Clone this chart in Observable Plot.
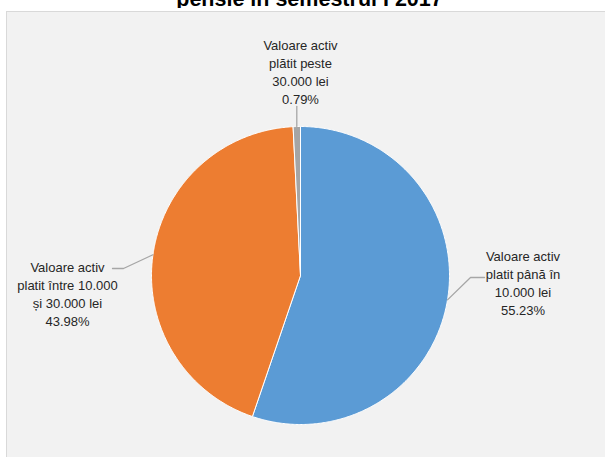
<!DOCTYPE html>
<html><head><meta charset="utf-8">
<script src="https://cdn.jsdelivr.net/npm/d3@7"></script>
<script src="https://cdn.jsdelivr.net/npm/@observablehq/plot@0.6"></script>
<style>
html,body{margin:0;padding:0;background:#fff;width:605px;height:457px;overflow:hidden;font-family:"Liberation Sans",Arial,sans-serif;}
#wrap{position:relative;width:605px;height:457px;overflow:hidden;}
#title{position:absolute;left:0;top:0;width:619px;height:8px;overflow:hidden;}
#title span{position:absolute;left:0;width:619px;text-align:center;top:-10.7px;font-weight:bold;font-size:21.5px;line-height:21.5px;color:#000;white-space:nowrap;}
#panel{position:absolute;left:6px;top:11px;width:620px;height:470px;background:#f2f2f2;border:1px solid #d9d9d9;}
#chart{position:absolute;left:0;top:0;}
</style>
</head><body>
<div id="wrap">
  <div id="title"><span>pensie în semestrul I 2017</span></div>
  <div id="panel"></div>
  <div id="chart"></div>
</div>
<script>
// ---- data ----
const categories = [
  "Valoare activ platit până în 10.000 lei",
  "Valoare activ platit între 10.000 și 30.000 lei",
  "Valoare activ plătit peste 30.000 lei"
];
const labelLines = [
  "Valoare activ\nplatit până în\n10.000 lei",
  "Valoare activ\nplatit între 10.000\nși 30.000 lei",
  "Valoare activ\nplătit peste\n30.000 lei"
];
const shares = [55.23, 43.98, 0.79];
const percentLabels = ["55.23%", "43.98%", "0.79%"];
const colors = ["#5b9bd5", "#ed7d31", "#a5a5a5"];

// ---- layout (pixels) ----
const W = 605, H = 457, CX = 300, CY = 275, R = 149;
// label block centre and leader line elbow/end per slice (pixels)
const labelLayout = [
  {lx: 522.5, ly: 281.5, elbow: [470, 277], end: [484, 277]},
  {lx: 67, ly: 292.5, elbow: [123, 268], end: [112, 268]},
  {lx: 300, ly: 71, elbow: null, end: null}
];
const ux = px => (px - CX) / R;
const uy = py => (CY - py) / R;

const rows = categories.map((c, i) => ({key: i, name: c, value: shares[i], color: colors[i]}));
const arcs = d3.pie().sort(null).value(d => d.value).startAngle(0).endAngle(2 * Math.PI)(rows);

const slicePts = [];
arcs.forEach(p => {
  const d = p.data;
  const span = p.endAngle - p.startAngle;
  const n = Math.max(2, Math.ceil(span / (Math.PI / 360)));
  slicePts.push({key: d.key, x: 0, y: 0, color: d.color});
  for (let k = 0; k <= n; k++) {
    const a = p.startAngle + span * k / n;
    slicePts.push({key: d.key, x: Math.sin(a), y: Math.cos(a), color: d.color});
  }
  slicePts.push({key: d.key, x: 0, y: 0, color: d.color});
});

const leaderPts = [];
const labelRows = [];
arcs.forEach((p, i) => {
  const m = (p.startAngle + p.endAngle) / 2;
  const L = labelLayout[i];
  const sx = Math.sin(m), sy = Math.cos(m);
  leaderPts.push({key: i, x: sx, y: sy});
  if (L.elbow) {
    leaderPts.push({key: i, x: ux(L.elbow[0]), y: uy(L.elbow[1])});
    leaderPts.push({key: i, x: ux(L.end[0]), y: uy(L.end[1])});
  } else {
    leaderPts.push({key: i, x: sx, y: uy(106)});
  }
  labelRows.push({x: ux(L.lx), y: uy(L.ly), text: labelLines[i] + "\n" + percentLabels[i]});
});

const chart = Plot.plot({
  width: W, height: H, margin: 0,
  x: {domain: [ux(0), ux(W)], axis: null},
  y: {domain: [uy(H), uy(0)], axis: null},
  style: {background: "transparent", fontFamily: "'Liberation Sans', Arial, sans-serif"},
  marks: [
    Plot.line(slicePts, {x: "x", y: "y", z: "key", fill: "color", stroke: "#ffffff", strokeWidth: 1, curve: "linear", strokeLinejoin: "round"}),
    Plot.line(leaderPts, {x: "x", y: "y", z: "key", stroke: "#a6a6a6", strokeWidth: 1.3, curve: "linear"}),
    Plot.text(labelRows, {x: "x", y: "y", text: "text", fontSize: 13, lineHeight: 1.385, fill: "#262626"})
  ]
});
document.getElementById("chart").appendChild(chart);
</script>
</body></html>
